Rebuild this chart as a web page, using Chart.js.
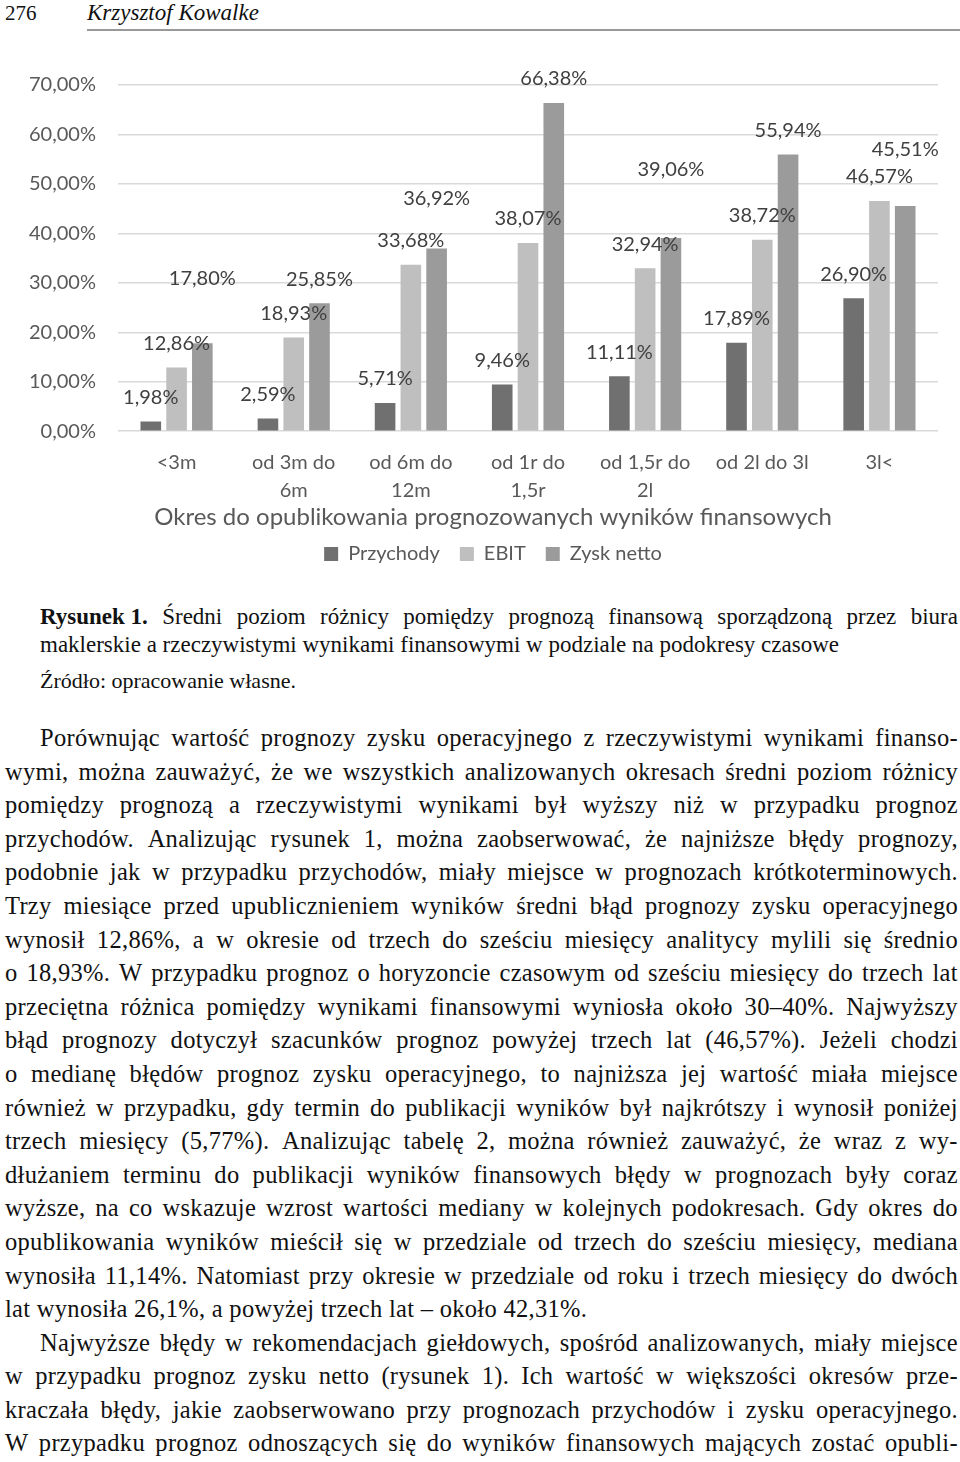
<!DOCTYPE html>
<html lang="pl">
<head>
<meta charset="utf-8">
<script src="https://cdn.jsdelivr.net/npm/chart.js@4"></script>
<style>
  html, body { margin: 0; padding: 0; background: #fff; overflow: hidden; }
  body { width: 960px; height: 1462px; position: relative; font-family: "Liberation Serif", "Times New Roman", serif; color: #111; }
  .pagenum { position: absolute; left: 5px; top: 1px; font-size: 21px; }
  .author { position: absolute; left: 87px; top: 0px; font-size: 23px; font-style: italic; }
  .rule { position: absolute; left: 87px; right: 0; top: 29px; height: 2px; background: #999; }
  #chartBox { position: absolute; left: 0; top: 55px; width: 960px; height: 525px; }
  .caption { position: absolute; left: 40px; width: 918px; top: 603px; font-size: 23px; line-height: 28px; }
  .source { position: absolute; left: 40px; top: 668px; font-size: 22px; }
  #text { position: absolute; left: 5px; width: 953px; top: 721px; font-size: 24.5px; letter-spacing: 0.3px; line-height: 33.6px; }
  .ln { display: flex; justify-content: space-between; white-space: nowrap; height: 33.6px; }
  .ln.last { justify-content: flex-start; }
  .ln.ind { padding-left: 35px; }
  .cl { display: flex; justify-content: space-between; white-space: nowrap; }
</style>
</head>
<body>
<div class="pagenum">276</div>
<div class="author">Krzysztof Kowalke</div>
<div class="rule"></div>

<div id="chartBox"><canvas id="chart"></canvas></div>

<div class="caption">
  <div class="cl" id="cap1"></div>
  <div>maklerskie a rzeczywistymi wynikami finansowymi w podziale na podokresy czasowe</div>
</div>
<div class="source">Źródło: opracowanie własne.</div>

<div id="text"></div>

<script>
// dane wykresu
const categories = [["<3m"], ["od 3m do", "6m"], ["od 6m do", "12m"], ["od 1r do", "1,5r"], ["od 1,5r do", "2l"], ["od 2l do 3l"], ["3l<"]];
const przychody = [1.98, 2.59, 5.71, 9.46, 11.11, 17.89, 26.90];
const ebit = [12.86, 18.93, 33.68, 38.07, 32.94, 38.72, 46.57];
const zyskNetto = [17.80, 25.85, 36.92, 66.38, 39.06, 55.94, 45.51];
const yTicks = [0, 10, 20, 30, 40, 50, 60, 70];

// dodatkowe podniesienie etykiet (jak w oryginale)
const labelLift = [
    [0, 0, 0, 0, 0, 0, 0],
    [0, 0, 0, 0, 0, 0, 0],
    [41, 0, 26, 0, 44, 0, 33]
];

const fmt = v => v.toFixed(2).replace('.', ',') + '%';
const axisFont = { family: 'Lato', size: 20 };
const grey = '#595959';

const dataLabels = {
    id: 'dataLabels',
    afterDatasetsDraw(chart) {
        const c = chart.ctx;
        c.save();
        c.font = '20px Lato';
        c.fillStyle = '#404040';
        c.textAlign = 'center';
        c.textBaseline = 'middle';
        chart.data.datasets.forEach((ds, i) => {
            chart.getDatasetMeta(i).data.forEach((bar, j) => {
                c.fillText(fmt(ds.data[j]), bar.x, bar.y - 24 - labelLift[i][j]);
            });
        });
        c.restore();
    }
};

function drawChart() {
    new Chart(document.getElementById('chart'), {
        type: 'bar',
        data: {
            labels: categories,
            datasets: [
                { label: 'Przychody', data: przychody, backgroundColor: '#707070' },
                { label: 'EBIT', data: ebit, backgroundColor: '#bfbfbf' },
                { label: 'Zysk netto', data: zyskNetto, backgroundColor: '#9b9b9b' }
            ]
        },
        options: {
            responsive: true,
            maintainAspectRatio: false,
            animation: false,
            categoryPercentage: 0.66,
            barPercentage: 0.8,
            layout: { padding: { left: 48, right: 22, top: 30, bottom: 6 } },
            scales: {
                x: {
                    grid: { display: false, drawTicks: false },
                    border: { display: false },
                    ticks: { font: { family: 'Lato', size: 20, lineHeight: 1.4 }, color: grey, padding: 17 }
                },
                y: {
                    min: 0,
                    max: 70,
                    afterBuildTicks: axis => { axis.ticks = yTicks.map(v => ({ value: v })); },
                    afterFit: axis => { axis.width = 70; },
                    // etykiety po lewej stronie osi, wyrównane do prawej
                    ticks: { font: axisFont, color: grey, mirror: true, crossAlign: 'far', padding: -89, callback: v => fmt(v) },
                    grid: { color: '#d9d9d9', lineWidth: 1.5, drawTicks: false },
                    border: { display: false }
                }
            },
            plugins: {
                legend: {
                    position: 'bottom',
                    labels: { font: axisFont, color: grey, boxWidth: 14, boxHeight: 14, padding: 20 }
                },
                title: {
                    display: true,
                    position: 'bottom',
                    weight: 500,
                    text: 'Okres do opublikowania prognozowanych wyników finansowych',
                    font: { family: 'Lato', size: 24, weight: 'normal' },
                    color: grey,
                    padding: { top: -18, bottom: -8 }
                },
                tooltip: { enabled: false }
            }
        },
        plugins: [dataLabels]
    });
}

document.fonts.load('20px Lato').then(drawChart, drawChart);

// podpis
const capEl = document.getElementById('cap1');
['Rysunek\u00a01.', 'Średni', 'poziom', 'różnicy', 'pomiędzy', 'prognozą', 'finansową', 'sporządzoną', 'przez', 'biura'].forEach((w, k) => {
    const s = document.createElement('span');
    s.textContent = w;
    if (k === 0) s.style.fontWeight = 'bold';
    capEl.appendChild(s);
});

// tekst
const lines = [
    ['ind', 'Porównując wartość prognozy zysku operacyjnego z rzeczywistymi wynikami finanso-'],
    ['', 'wymi, można zauważyć, że we wszystkich analizowanych okresach średni poziom różnicy'],
    ['', 'pomiędzy prognozą a rzeczywistymi wynikami był wyższy niż w przypadku prognoz'],
    ['', 'przychodów. Analizując rysunek 1, można zaobserwować, że najniższe błędy prognozy,'],
    ['', 'podobnie jak w przypadku przychodów, miały miejsce w prognozach krótkoterminowych.'],
    ['', 'Trzy miesiące przed upublicznieniem wyników średni błąd prognozy zysku operacyjnego'],
    ['', 'wynosił 12,86%, a w okresie od trzech do sześciu miesięcy analitycy mylili się średnio'],
    ['', 'o 18,93%. W przypadku prognoz o horyzoncie czasowym od sześciu miesięcy do trzech lat'],
    ['', 'przeciętna różnica pomiędzy wynikami finansowymi wyniosła około 30–40%. Najwyższy'],
    ['', 'błąd prognozy dotyczył szacunków prognoz powyżej trzech lat (46,57%). Jeżeli chodzi'],
    ['', 'o medianę błędów prognoz zysku operacyjnego, to najniższa jej wartość miała miejsce'],
    ['', 'również w przypadku, gdy termin do publikacji wyników był najkrótszy i wynosił poniżej'],
    ['', 'trzech miesięcy (5,77%). Analizując tabelę 2, można również zauważyć, że wraz z wy-'],
    ['', 'dłużaniem terminu do publikacji wyników finansowych błędy w prognozach były coraz'],
    ['', 'wyższe, na co wskazuje wzrost wartości mediany w kolejnych podokresach. Gdy okres do'],
    ['', 'opublikowania wyników mieścił się w przedziale od trzech do sześciu miesięcy, mediana'],
    ['', 'wynosiła 11,14%. Natomiast przy okresie w przedziale od roku i trzech miesięcy do dwóch'],
    ['last', 'lat wynosiła 26,1%, a powyżej trzech lat – około 42,31%.'],
    ['ind', 'Najwyższe błędy w rekomendacjach giełdowych, spośród analizowanych, miały miejsce'],
    ['', 'w przypadku prognoz zysku netto (rysunek 1). Ich wartość w większości okresów prze-'],
    ['', 'kraczała błędy, jakie zaobserwowano przy prognozach przychodów i zysku operacyjnego.'],
    ['', 'W przypadku prognoz odnoszących się do wyników finansowych mających zostać opubli-']
];
const textEl = document.getElementById('text');
lines.forEach(([cls, t]) => {
    const d = document.createElement('div');
    d.className = 'ln ' + cls;
    if (cls === 'last') {
        d.textContent = t;
    } else {
        t.split(' ').forEach(w => {
            const s = document.createElement('span');
            s.textContent = w;
            d.appendChild(s);
        });
    }
    textEl.appendChild(d);
});
</script>
</body>
</html>
